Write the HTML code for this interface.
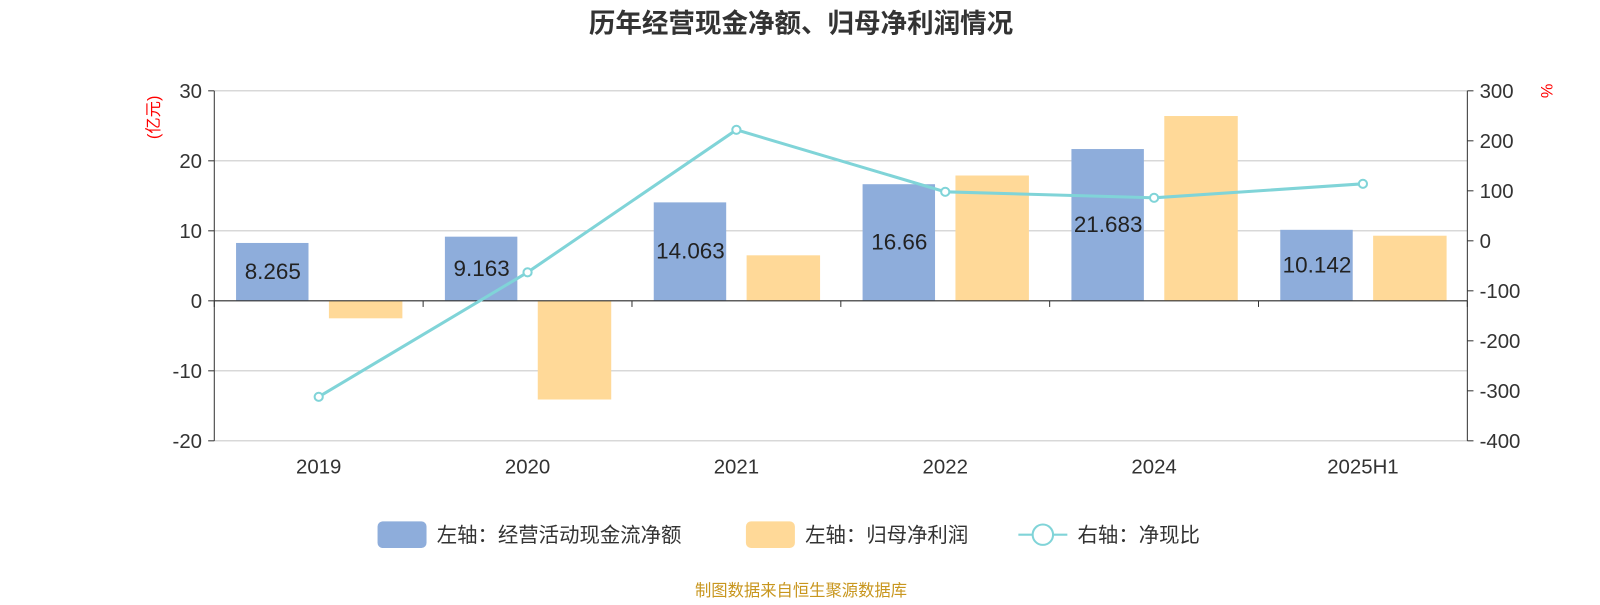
<!DOCTYPE html>
<html><head><meta charset="utf-8"><style>
body{margin:0;background:#fff;font-family:"Liberation Sans","Noto Sans CJK SC",sans-serif;}
</style></head><body>
<svg id="c" width="1600" height="600" viewBox="0 0 1568 588" xmlns="http://www.w3.org/2000/svg"></svg>
<script>
const categories=["2019","2020","2021","2022","2024","2025H1"];
const cashFlow=[8.265,9.163,14.063,16.66,21.683,10.142];
const netProfit=[-2.5,-14.1,6.5,17.9,26.4,9.3];
const ratio=[-312,-63,222,98,86,114];
const leftTicks=[30,20,10,0,-10,-20];
const rightTicks=[300,200,100,0,-100,-200,-300,-400];
const svg=document.getElementById('c');const NS='http://www.w3.org/2000/svg';
function el(t,a,txt){const e=document.createElementNS(NS,t);for(const k in a)e.setAttribute(k,a[k]);if(txt!==undefined)e.textContent=txt;svg.appendChild(e);return e;}
const X0=210,X1=1438,Y0=89,Y1=432;
const yL=v=>Y0+(30-v)/50*(Y1-Y0);
const yR=v=>Y0+(300-v)/700*(Y1-Y0);
const bw=(X1-X0)/categories.length;
const cx=i=>X0+bw*(i+0.5);
let t=el('text',{x:785,y:32,'text-anchor':'middle','font-size':26,'font-weight':'bold',fill:'#333'},'历年经营现金净额、归母净利润情况');

leftTicks.forEach(v=>{
 let g=el('line',{x1:X0,x2:X1,y1:yL(v),y2:yL(v),stroke:'#ccc','stroke-width':1});
 
 let tk=el('line',{x1:X0-6,x2:X0,y1:yL(v),y2:yL(v),stroke:'#333'});
 
 let l=el('text',{x:X0-12,y:yL(v)+7,'text-anchor':'end','font-size':20,fill:'#333'},v);
 
});
rightTicks.forEach(v=>{
 let tk=el('line',{x1:X1,x2:X1+6,y1:yR(v),y2:yR(v),stroke:'#333'});
 
 let l=el('text',{x:X1+12,y:yR(v)+7,'font-size':20,fill:'#333'},v);
 
});
let a=el('line',{x1:X0,x2:X0,y1:Y0,y2:Y1,stroke:'#333'});
a=el('line',{x1:X1,x2:X1,y1:Y0,y2:Y1,stroke:'#333'});
a=el('text',{x:0,y:0,'font-size':16,fill:'red','text-anchor':'middle',transform:'translate(156,115) rotate(-90)'},'(亿元)');
a=el('text',{x:0,y:0,'font-size':16,fill:'red','text-anchor':'middle',transform:'translate(1510,89) rotate(90)'},'%');
categories.forEach((c,i)=>{
 let b=el('rect',{x:cx(i)-81,y:Math.min(yL(0),yL(cashFlow[i])),width:71,height:Math.abs(yL(cashFlow[i])-yL(0)),fill:'#8eaddb'});
 
 let o=el('rect',{x:cx(i)+10,y:Math.min(yL(0),yL(netProfit[i])),width:72,height:Math.abs(yL(netProfit[i])-yL(0)),fill:'#ffd998'});
 
 let l=el('text',{x:cx(i)-45,y:(yL(0)+yL(cashFlow[i]))/2+7,'text-anchor':'middle','font-size':22,fill:'#222'},cashFlow[i]);
 
 let xl=el('text',{x:cx(i),y:464,'text-anchor':'middle','font-size':20,fill:'#333'},c);
 
});
a=el('line',{x1:X0,x2:X1,y1:yL(0),y2:yL(0),stroke:'#333'});
for(let i=0;i<=categories.length;i++){let k=el('line',{x1:X0+bw*i,x2:X0+bw*i,y1:yL(0),y2:yL(0)+6,stroke:'#333'});}
let p=el('polyline',{points:ratio.map((v,i)=>cx(i)+','+yR(v)).join(' '),fill:'none',stroke:'#80d4d8','stroke-width':3});

ratio.forEach((v,i)=>{let d=el('circle',{cx:cx(i),cy:yR(v),r:4,fill:'#fff',stroke:'#80d4d8','stroke-width':2});});
a=el('rect',{x:370,y:511,width:48,height:26,rx:5,fill:'#8eaddb'});
a=el('text',{x:428,y:531,'font-size':20,fill:'#333'},'左轴：经营活动现金流净额');
a=el('rect',{x:731,y:511,width:48,height:26,rx:5,fill:'#ffd998'});
a=el('text',{x:789,y:531,'font-size':20,fill:'#333'},'左轴：归母净利润');
a=el('line',{x1:998,x2:1046,y1:524,y2:524,stroke:'#80d4d8','stroke-width':2});
a=el('circle',{cx:1022,cy:524,r:10,fill:'#fff',stroke:'#80d4d8','stroke-width':2});
a=el('text',{x:1056,y:531,'font-size':20,fill:'#333'},'右轴：净现比');
a=el('text',{x:785,y:584,'text-anchor':'middle','font-size':16,fill:'#c8961e'},'制图数据来自恒生聚源数据库');
</script>
</body></html>
